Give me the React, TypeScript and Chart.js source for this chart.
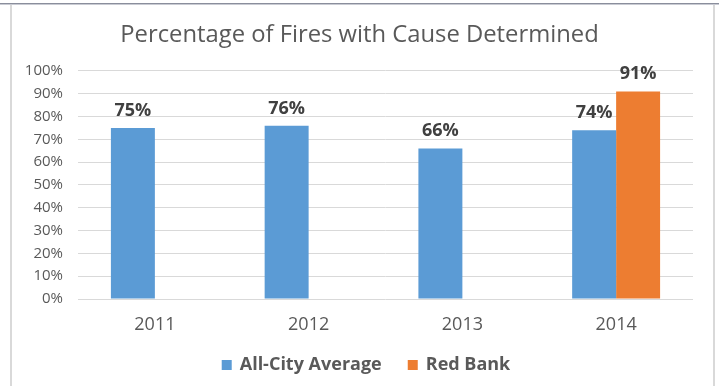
import React, { useEffect, useRef } from "react";
import { Chart, registerables } from "chart.js";

Chart.register(...registerables);

const categories = ["2011", "2012", "2013", "2014"];
const allCityAverage = [75, 76, 66, 74];
const redBank = [null, null, null, 91];
const seriesNames = ["All-City Average", "Red Bank"];
const title = "Percentage of Fires with Cause Determined";

const FONT = "'Open Sans', 'Noto Sans', sans-serif";

const framePlugin = {
  id: "frame",
  beforeDraw(chart: any) {
    const ctx = chart.ctx;
    ctx.save();
    ctx.fillStyle = "#ffffff";
    ctx.fillRect(0, 0, chart.width, chart.height);
    ctx.fillStyle = "#8a8e9c";
    ctx.fillRect(0, 3, chart.width, 1);
    ctx.fillStyle = "#c9cbd3";
    ctx.fillRect(0, 4, chart.width, 1);
    ctx.fillStyle = "#d9d9d9";
    ctx.fillRect(10, 5, 2, chart.height - 5);
    ctx.fillRect(713, 5, 2, chart.height - 5);
    ctx.restore();
  },
};

const valueLabelPlugin = {
  id: "valueLabels",
  afterDatasetsDraw(chart: any) {
    const ctx = chart.ctx;
    ctx.save();
    ctx.font = `bold 18px ${FONT}`;
    ctx.fillStyle = "#404040";
    ctx.textAlign = "center";
    ctx.textBaseline = "alphabetic";
    chart.data.datasets.forEach((ds: any, i: number) => {
      const meta = chart.getDatasetMeta(i);
      meta.data.forEach((el: any, j: number) => {
        const v = ds.data[j];
        if (v === null || v === undefined) return;
        ctx.fillText(v + "%", el.x, el.y - 12);
      });
    });
    ctx.restore();
  },
};

const customLegendPlugin = {
  id: "customLegend",
  afterDraw(chart: any) {
    const ctx = chart.ctx;
    ctx.save();
    ctx.font = `bold 18px ${FONT}`;
    ctx.textBaseline = "middle";
    ctx.textAlign = "left";
    const box = 10;
    const gap = 8;
    const spacing = 26;
    const items = chart.data.datasets.map((ds: any) => ({
      label: ds.label,
      color: ds.backgroundColor,
      w: box + gap + ctx.measureText(ds.label).width,
    }));
    const total = items.reduce((s: number, it: any) => s + it.w, 0) + spacing * (items.length - 1);
    let x = 366 - total / 2;
    const y = 365;
    items.forEach((it: any) => {
      ctx.fillStyle = it.color;
      ctx.fillRect(x, y - box / 2, box, box);
      ctx.fillStyle = "#595959";
      ctx.fillText(it.label, x + box + gap, y);
      x += it.w + spacing;
    });
    ctx.restore();
  },
};

export default function App() {
  const ref = useRef<HTMLCanvasElement>(null);
  useEffect(() => {
    if (!ref.current) return;
    const chart = new Chart(ref.current, {
      type: "bar",
      data: {
        labels: categories,
        datasets: [
          {
            label: seriesNames[0],
            data: allCityAverage,
            backgroundColor: "#5b9bd5",
            barPercentage: 1,
            categoryPercentage: 0.572,
          },
          {
            label: seriesNames[1],
            data: redBank,
            backgroundColor: "#ed7d31",
            barPercentage: 1,
            categoryPercentage: 0.572,
          },
        ],
      },
      options: {
        responsive: false,
        animation: false,
        layout: { padding: { top: 0, left: 0, right: 0, bottom: 47 } },
        plugins: {
          legend: { display: false },
          tooltip: { enabled: false },
          title: {
            display: true,
            text: title,
            color: "#595959",
            font: { family: FONT, size: 23.8, weight: "normal", lineHeight: 1.2 },
            padding: { top: 21, bottom: 21.4 },
          },
        },
        scales: {
          x: {
            grid: { display: false, drawTicks: false },
            border: { display: false },
            ticks: {
              color: "#595959",
              font: { family: FONT, size: 18 },
              padding: 15,
            },
            afterFit(scale: any) {
              scale.height = 40;
            },
          },
          y: {
            min: 0,
            max: 100,
            grid: { color: "#d9d9d9", lineWidth: 1, drawTicks: false },
            border: { display: false },
            ticks: {
              stepSize: 10,
              color: "#595959",
              font: { family: FONT, size: 15 },
              padding: 15,
              callback: (v: any) => v + "%",
            },
            afterFit(scale: any) {
              scale.width = 78;
            },
          },
          spacer: {
            type: "linear",
            position: "right",
            display: true,
            grid: { display: false, drawTicks: false },
            border: { display: false },
            ticks: { display: false },
            afterFit(scale: any) {
              scale.width = 26;
            },
          },
        },
      },
      plugins: [framePlugin, valueLabelPlugin, customLegendPlugin],
    });
    return () => chart.destroy();
  }, []);
  return (
    <div style={{ position: "fixed", left: 0, top: 0, width: 719, height: 386 }}>
      <canvas ref={ref} width={719} height={386} style={{ width: 719, height: 386, display: "block" }} />
    </div>
  );
}
